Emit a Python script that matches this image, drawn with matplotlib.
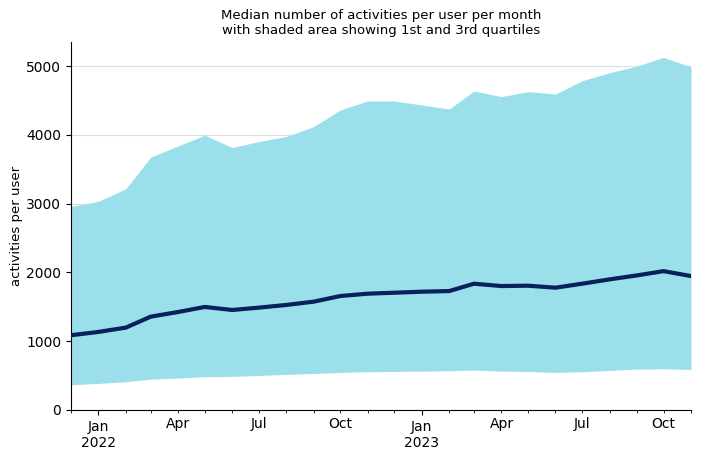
import numpy as np
import matplotlib
matplotlib.use("Agg")
import matplotlib.pyplot as plt
import matplotlib.dates as mdates
from datetime import date

months = [date(2021, 12, 1)] + [date(2022, m, 1) for m in range(1, 13)] + [date(2023, m, 1) for m in range(1, 12)]

q1 = [367, 386, 411, 449, 464, 483, 488, 502, 517, 531, 546, 556,
      560, 565, 570, 580, 565, 560, 546, 556, 575, 594, 599, 589]
median = [1087, 1135, 1198, 1357, 1425, 1498, 1454, 1488, 1527, 1575, 1657, 1691,
          1705, 1720, 1729, 1836, 1802, 1807, 1778, 1836, 1899, 1957, 2019, 1947]
q3 = [2960, 3034, 3217, 3676, 3840, 3995, 3816, 3903, 3976, 4121, 4362, 4493,
      4493, 4435, 4377, 4638, 4556, 4628, 4594, 4787, 4903, 5000, 5126, 4990]

fig = plt.figure(figsize=(7.08, 4.62), dpi=100)
ax = fig.add_axes([0.1003, 0.1126, 0.8757, 0.7964])

ax.grid(axis="y", color="#dddddd", linewidth=0.8, zorder=0)
ax.fill_between(months, q1, q3, color="#9bdfeb", linewidth=0, zorder=2)
ax.plot(months, median, color="#0a1f5c", linewidth=3, zorder=3)

ax.set_xlim(months[0], months[-1])
ax.set_ylim(0, 5350)
ax.set_yticks([0, 1000, 2000, 3000, 4000, 5000])

ax.xaxis.set_major_locator(mdates.MonthLocator(bymonth=1))
ax.xaxis.set_major_formatter(mdates.DateFormatter("%b\n%Y"))
ax.xaxis.set_minor_locator(mdates.MonthLocator())


def minor_fmt(x, pos):
    d = mdates.num2date(x)
    if d.month in (4, 7, 10):
        return d.strftime("%b")
    return ""


ax.xaxis.set_minor_formatter(plt.FuncFormatter(minor_fmt))
ax.tick_params(axis="x", which="major", length=3.5, labelsize=10)
ax.tick_params(axis="x", which="minor", length=2, labelsize=10)
ax.tick_params(axis="y", labelsize=10)

for s in ("top", "right"):
    ax.spines[s].set_visible(False)

ax.set_ylabel("activities per user", fontsize=9.5, labelpad=2)
ax.set_title("Median number of activities per user per month\nwith shaded area showing 1st and 3rd quartiles",
             fontsize=9.5)

fig.savefig("out.png", dpi=100)
